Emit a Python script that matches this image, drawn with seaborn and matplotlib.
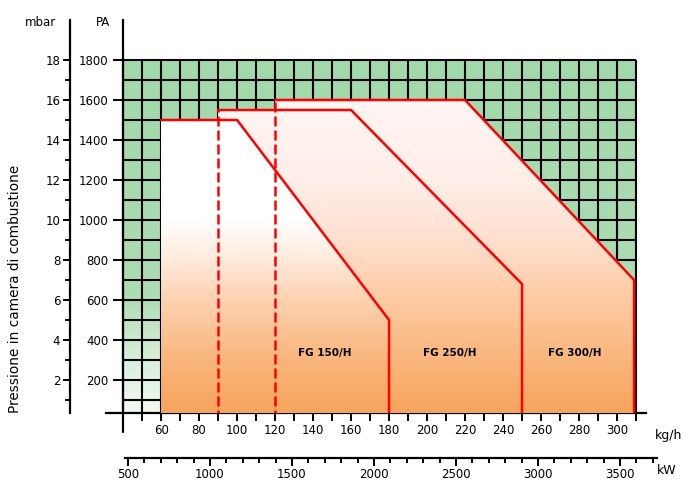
import numpy as np
import pandas as pd
import matplotlib
matplotlib.use('Agg')
import matplotlib.pyplot as plt
import seaborn as sns
from matplotlib.colors import LinearSegmentedColormap
from matplotlib.patches import Polygon

# values
kgh_labels = [60, 80, 100, 120, 140, 160, 180, 200, 220, 240, 260, 280, 300]
kgh_ticks = list(range(40, 311, 10))
mbar_major = [2, 4, 6, 8, 10, 12, 14, 16, 18]
mbar_minor = [1, 3, 5, 7, 9, 11, 13, 15, 17]
pa_labels = [200, 400, 600, 800, 1000, 1200, 1400, 1600, 1800]
kw_major = [500, 1000, 1500, 2000, 2500, 3000, 3500]
kw_minor = list(range(500, 3701, 100))

# working fields (kg/h, mbar)
fg150_x = [60, 100, 180, 180]
fg150_y = [15, 15, 5, 0]
fg250_x = [90, 160, 250, 250]
fg250_y = [15.5, 15.5, 6.8, 0]
fg300_x = [120, 220, 309, 309]
fg300_y = [16, 16, 7, 0]
dashed_x = [90, 120]
dashed_top = [15.5, 16]
models = ['FG 150/H', 'FG 250/H', 'FG 300/H']
model_x = [146, 212, 278]
model_y = [3.35, 3.35, 3.35]

sns.set_style('white')
plt.rcParams['font.family'] = ['DejaVu Sans']
plt.rcParams['text.color'] = 'black'
plt.rcParams['xtick.color'] = 'black'
plt.rcParams['ytick.color'] = 'black'
plt.rcParams['axes.edgecolor'] = 'black'

W, H = 691, 480
fig = plt.figure(figsize=(W / 100, H / 100), dpi=100)


def px_axes(l, t, r, b):
    return fig.add_axes([l / W, 1 - b / H, (r - l) / W, (b - t) / H])


ybot = 0.35
ax = px_axes(106, 20, 645.5, 413)
ax.set_xlim(31, 315)
ax.set_ylim(ybot, 20)
ax.patch.set_alpha(0)

# green "not allowed" area with grid
green = LinearSegmentedColormap.from_list(
    'g', [(0, '#f2faf2'), (0.17, '#d4eed6'), (0.33, '#aedcb3'), (1, '#a2d9aa')])
grad = np.linspace(0, 1, 256).reshape(-1, 1)
ax.imshow(grad, cmap=green, origin='lower', aspect='auto',
          extent=[40, 310, ybot, 18], zorder=1)
ax.vlines(kgh_ticks, ybot, 18, color='black', lw=1.5, zorder=2)
ax.hlines(range(1, 19), 40, 310, color='black', lw=1.5, zorder=2)

# envelope fills
union = [(60, ybot), (60, 15), (90, 15), (90, 15.5), (120, 15.5), (120, 16),
         (220, 16), (309, 7), (309, ybot)]
outer = LinearSegmentedColormap.from_list(
    'o', [(0, '#f6a258'), (3 / 16, '#f9b57c'), (6 / 16, '#fdcaa2'),
          (9 / 16, '#ffe0cf'), (12 / 16, '#ffeee8'), (1, '#fff6f3')])
inner = LinearSegmentedColormap.from_list(
    'i', [(0, '#f6a258'), (3 / 16, '#f9b57c'), (6 / 16, '#fdd2b0'),
          (8 / 16, '#ffeadb'), (10 / 16, '#ffffff'), (1, '#ffffff')])
p_union = Polygon(union, closed=True, transform=ax.transData)
im = ax.imshow(grad, cmap=outer, origin='lower', aspect='auto',
               extent=[60, 310, 0, 16], zorder=3)
im.set_clip_path(p_union)
p150 = Polygon(list(zip([60] + fg150_x, [ybot] + fg150_y)), closed=True,
               transform=ax.transData)
im2 = ax.imshow(grad, cmap=inner, origin='lower', aspect='auto',
                extent=[60, 310, 0, 16], zorder=4)
im2.set_clip_path(p150)

# red boundaries
for xs, ys in [(fg150_x, fg150_y), (fg250_x, fg250_y), (fg300_x, fg300_y)]:
    df = pd.DataFrame({'x': xs, 'y': ys})
    sns.lineplot(data=df, x='x', y='y', sort=False, estimator=None,
                 color='#ff0000', lw=1.8, ax=ax, zorder=6)
ax.vlines(dashed_x, 0, dashed_top, color='#ff0000', lw=1.8,
          linestyles=(0, (4, 1.6)), zorder=6)

for name, x, y in zip(models, model_x, model_y):
    ax.text(x, y, name, ha='center', va='center', fontsize=7.5,
            fontweight='bold', zorder=7)

# kg/h axis
for s in ['top', 'right']:
    ax.spines[s].set_visible(False)
ax.spines['bottom'].set_linewidth(1.6)
ax.spines['left'].set_position(('data', 40))
ax.spines['left'].set_linewidth(1.6)
ax.set_xticks(kgh_ticks)
ax.set_xticklabels([str(v) if v in kgh_labels else '' for v in kgh_ticks])
ax.tick_params(axis='x', direction='out', length=6, width=1.4, pad=2,
               labelsize=8.5, bottom=True)
ax.set_yticks(mbar_major)
ax.set_yticklabels([str(v) for v in pa_labels])
ax.tick_params(axis='y', direction='out', length=7, width=1.4, pad=3.5,
               labelsize=8.5, left=True)
ax.plot([40, 40], [ybot, -0.6], color='black', lw=1.6, clip_on=False)
ax.set_xlabel('')
ax.set_ylabel('')

# mbar axis
axm = px_axes(70, 20, 71, 413)
axm.set_ylim(ybot, 20)
axm.patch.set_alpha(0)
for s in ['top', 'right', 'bottom']:
    axm.spines[s].set_visible(False)
axm.spines['left'].set_linewidth(1.6)
axm.set_xticks([])
axm.set_yticks(mbar_major)
axm.set_yticks(mbar_minor, minor=True)
axm.tick_params(axis='y', which='major', direction='out', length=5,
                width=1.4, pad=2, labelsize=8.5, left=True)
axm.tick_params(axis='y', which='minor', direction='out', length=3.6,
                width=1.4, left=True)

# kW axis
axk = px_axes(125, 457, 657, 458)
axk.set_xlim(482, 3726)
axk.patch.set_alpha(0)
for s in ['top', 'right', 'left']:
    axk.spines[s].set_visible(False)
axk.spines['bottom'].set_linewidth(1.6)
axk.set_yticks([])
axk.set_xticks(kw_major)
axk.set_xticks(kw_minor, minor=True)
axk.tick_params(axis='x', which='major', direction='out', length=6,
                width=1.4, pad=1, labelsize=8.5, bottom=True)
axk.tick_params(axis='x', which='minor', direction='out', length=3.6,
                width=1.4, bottom=True)

fig.text(40 / W, 1 - 22 / H, 'mbar', ha='center', va='center', fontsize=8.5)
fig.text(103 / W, 1 - 22 / H, 'PA', ha='center', va='center', fontsize=8.5)
fig.text(655 / W, 1 - 435 / H, 'kg/h', ha='left', va='center', fontsize=9)
fig.text(657 / W, 1 - 471 / H, 'kW', ha='left', va='center', fontsize=9)
fig.text(15 / W, 1 - 289 / H, 'Pressione in camera di combustione',
         rotation=90, ha='center', va='center', fontsize=9.8)

fig.savefig('out.png', dpi=100)
